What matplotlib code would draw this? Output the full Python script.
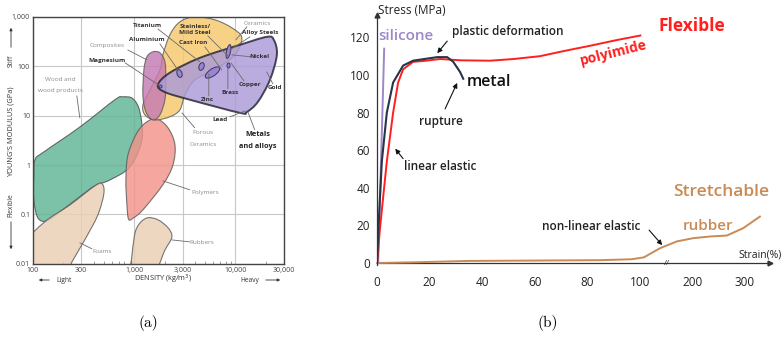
import numpy as np
import matplotlib
matplotlib.use('Agg')
import matplotlib.pyplot as plt
from matplotlib.path import Path
from matplotlib.patches import PathPatch
from matplotlib.markers import MarkerStyle
from matplotlib.transforms import Affine2D

plt.rcParams['font.family'] = ['Open Sans', 'DejaVu Sans']

# ---------------- (a) Ashby chart: modulus vs density ----------------
# bubble outlines, density (kg/m3) and Young's modulus (GPa)
wood_rho = [105, 131, 291, 645, 773, 971, 1138, 1192, 907, 576, 409, 291, 185, 137, 112, 102, 102]
wood_E = [1.3, 1.9, 5.9, 21, 24, 22, 11.9, 3.2, 0.92, 0.50, 0.38, 0.23, 0.113, 0.074, 0.085, 0.20, 0.60]
foam_rho = [83, 131, 232, 409, 480, 502, 438, 326, 243, 210, 83]
foam_E = [0.025, 0.071, 0.156, 0.38, 0.42, 0.27, 0.098, 0.031, 0.011, 0.006, 0.006]
rubber_rho = [971, 993, 1089, 1334, 1714, 2153, 2355, 2009, 1600]
rubber_E = [0.0076, 0.031, 0.059, 0.085, 0.078, 0.054, 0.035, 0.019, 0.0076]
polymer_rho = [1675, 2153, 2523, 2410, 1919, 1219, 981, 880, 847, 828, 867, 1064, 1334]
polymer_E = [8.6, 5.7, 2.6, 1.0, 0.40, 0.124, 0.085, 0.08, 0.16, 0.50, 1.6, 4.5, 7.5]
ceramic_rho = [2250, 2825, 3972, 6266, 9204, 11560, 9863, 6266, 3972, 3162, 2825, 2250, 1600, 1276, 1219, 1429, 1795, 1919]
ceramic_E = [432, 792, 1000, 869, 599, 376, 170, 85, 53, 26, 13.1, 9.5, 8.2, 10.4, 16.5, 33, 85, 170]
composite_rho = [1531, 1795, 2009, 2056, 2009, 1795, 1531, 1306, 1219, 1247, 1334]
composite_E = [196, 187, 123, 53, 21, 10.4, 8.2, 11.9, 26, 85, 155]
metal_rho = [1714, 2250, 4457, 11040, 20420, 23920, 25620, 21880, 16630, 12970, 11040, 3548, 2009]
metal_E = [42, 74, 148, 271, 394, 342, 170, 53, 19, 11.9, 11.4, 21, 30]

# individual metals inside the metal bubble (density, modulus)
blob_rho = [1807, 2762, 4550, 5848, 8500, 8414]
blob_E = [40, 73, 102, 77, 205, 107]
blob_w = [3, 5, 5, 17, 4, 3]
blob_h = [3, 8, 8, 7, 14, 5]
blob_ang = [0, 20, -20, 35, -12, 0]

# labels: text, axes-fraction position, style
labels = [
    ('Titanium', 0.458, 0.964, 'dark'), ('Stainless/', 0.645, 0.960, 'dark'),
    ('Mild Steel', 0.645, 0.935, 'dark'), ('Cast Iron', 0.637, 0.895, 'dark'),
    ('Ceramics', 0.896, 0.972, 'grey'), ('Alloy Steels', 0.904, 0.935, 'dark'),
    ('Aluminium', 0.454, 0.907, 'dark'), ('Composites', 0.295, 0.883, 'grey'),
    ('Magnesium', 0.295, 0.822, 'dark'), ('Nickel', 0.904, 0.838, 'dark'),
    ('Copper', 0.865, 0.725, 'dark'), ('Gold', 0.964, 0.713, 'dark'),
    ('Brass', 0.785, 0.692, 'dark'), ('Zinc', 0.697, 0.664, 'dark'),
    ('Lead', 0.745, 0.583, 'dark'), ('Porous', 0.677, 0.530, 'grey'),
    ('Ceramics', 0.677, 0.482, 'grey'), ('Metals', 0.896, 0.522, 'bold'),
    ('and alloys', 0.896, 0.474, 'bold'), ('Wood and', 0.108, 0.745, 'grey'),
    ('wood products', 0.108, 0.700, 'grey'), ('Polymers', 0.685, 0.287, 'grey'),
    ('Rubbers', 0.673, 0.085, 'grey'), ('Foams', 0.275, 0.049, 'grey'),
]
leaders = [
    ((0.498, 0.951), (0.665, 0.818)), ((0.697, 0.923), (0.777, 0.842)),
    ((0.685, 0.879), (0.753, 0.785)), ((0.506, 0.891), (0.578, 0.785)),
    ((0.378, 0.866), (0.454, 0.826)), ((0.367, 0.814), (0.506, 0.721)),
    ((0.853, 0.960), (0.809, 0.907)), ((0.865, 0.919), (0.785, 0.866)),
    ((0.873, 0.838), (0.793, 0.846)), ((0.841, 0.741), (0.789, 0.814)),
    ((0.956, 0.729), (0.932, 0.777)), ((0.777, 0.709), (0.777, 0.794)),
    ((0.701, 0.680), (0.701, 0.769)), ((0.785, 0.595), (0.845, 0.619)),
    ((0.645, 0.551), (0.594, 0.611)), ((0.884, 0.543), (0.857, 0.615)),
    ((0.175, 0.680), (0.187, 0.591)), ((0.625, 0.300), (0.518, 0.336)),
    ((0.625, 0.089), (0.554, 0.097)), ((0.235, 0.061), (0.187, 0.085)),
]

# ---------------- (b) stress-strain curves ----------------
metal_strain = [0, 0.5, 1.8, 3.7, 6.1, 9.9, 13.7, 18, 22.9, 26.7, 29, 31.6, 32.8]
metal_stress = [0, 18.5, 54, 80, 96, 105, 107.6, 108.5, 109.5, 109.5, 107, 101.6, 98]
pi_strain = [0, 1.1, 3.7, 6.1, 8.0, 9.9, 13.7, 18, 24, 32, 43, 52, 62, 72, 81, 91, 101.3]
pi_stress = [0, 18.5, 54, 80, 96, 103, 107, 107.5, 108.5, 107.8, 107.6, 108.5, 110, 113, 115.5, 118.5, 121]
si_strain = [0.4, 2.7]
si_stress = [0, 114]
rub_strain = [0, 15, 35, 60, 85, 97, 108, 139, 171, 202, 234, 266, 297, 329]
rub_stress = [0, 0.4, 1.1, 1.3, 1.5, 2.0, 3.0, 7.9, 11.5, 13.2, 14.1, 14.6, 18.5, 24.7]
strain_ticks = [0, 20, 40, 60, 80, 100, 200, 300]
stress_ticks = [0, 20, 40, 60, 80, 100, 120]


def smooth_path(xs, ys):
    # closed smooth outline, built in log space
    pts = np.column_stack([np.log10(xs), np.log10(ys)])
    n = len(pts)
    verts = [pts[0]]
    codes = [Path.MOVETO]
    for i in range(n):
        p0, p1, p2, p3 = pts[i - 1], pts[i], pts[(i + 1) % n], pts[(i + 2) % n]
        verts += [p1 + (p2 - p0) / 6, p2 - (p3 - p1) / 6, p2]
        codes += [Path.CURVE4] * 3
    return Path(10 ** np.array(verts), codes)


fig = plt.figure(figsize=(7.84, 3.37), dpi=100)

axA = fig.add_axes([0.042, 0.217, 0.320, 0.733])
axA.set_xscale('log')
axA.set_yscale('log')
axA.set_xlim(100, 30000)
axA.set_ylim(0.01, 1000)

bubbles = [
    (wood_rho, wood_E, '#5fb596', '#4d4d4d', 0.8),
    (foam_rho, foam_E, '#ebcfb3', '#5a5a5a', 0.8),
    (rubber_rho, rubber_E, '#ebcfb3', '#5a5a5a', 0.8),
    (polymer_rho, polymer_E, '#f2938a', '#5a5a5a', 0.8),
    (ceramic_rho, ceramic_E, '#f6c86c', '#5a5a5a', 0.8),
    (composite_rho, composite_E, '#c47ab4', '#5a5a5a', 0.8),
    (metal_rho, metal_E, '#ab9ad8', '#222233', 1.4),
]
for xs, ys, fc, ec, lw in bubbles:
    axA.add_patch(PathPatch(smooth_path(xs, ys), facecolor=fc, edgecolor=ec,
                            lw=lw, alpha=0.82, zorder=2))

for x, y, w, h, a in zip(blob_rho, blob_E, blob_w, blob_h, blob_ang):
    m = MarkerStyle('o', transform=Affine2D().scale(w / h, 1).rotate_deg(a))
    axA.scatter([x], [y], marker=m, s=(h * 0.72) ** 2, facecolor='#9a86d0',
                edgecolor='#3a3566', lw=0.7, zorder=4)

for (x0, y0), (x1, y1) in leaders:
    axA.annotate('', xy=(x1, y1), xytext=(x0, y0), xycoords='axes fraction',
                 arrowprops=dict(arrowstyle='-', color='#6a6a6a', lw=0.6,
                                 shrinkA=0, shrinkB=0), zorder=5)

styles = {'grey': dict(color='#8c8c8c', fontweight='normal'),
          'dark': dict(color='#333333', fontweight='bold'),
          'bold': dict(color='#222222', fontweight='bold')}
for txt, x, y, st in labels:
    size = 5.3 if st == 'bold' else 4.6
    axA.text(x, y, txt, transform=axA.transAxes, ha='center', va='center',
             fontsize=size, zorder=6, **styles[st])

axA.set_xticks([100, 300, 1000, 3000, 10000, 30000])
axA.set_xticklabels(['100', '300', '1,000', '3,000', '10,000', '30,000'])
axA.set_yticks([0.01, 0.1, 1, 10, 100, 1000])
axA.set_yticklabels(['0.01', '0.1', '1', '10', '100', '1,000'])
axA.tick_params(which='major', length=0, labelsize=5, colors='#444444', pad=2)
axA.tick_params(which='minor', direction='in', length=2, color='#777777', width=0.5)
axA.yaxis.set_minor_locator(matplotlib.ticker.NullLocator())
axA.grid(True, which='major', color='#c8c8c8', lw=0.8)
axA.set_axisbelow(True)
for s in axA.spines.values():
    s.set_color('#444444')
    s.set_linewidth(1.0)

# side labels of panel (a)
fig.text(11 / 784, 1 - 132 / 337, "YOUNG'S MODULUS (GPa)", rotation=90, ha='center',
         va='center', fontsize=5.3, color='#333333')
fig.text(11 / 784, 1 - 61 / 337, 'Stiff', rotation=90, ha='center', va='center',
         fontsize=4.8, color='#333333')
fig.text(11 / 784, 1 - 205 / 337, 'Flexible', rotation=90, ha='center', va='center',
         fontsize=4.8, color='#333333')
arr = dict(arrowstyle='-|>', color='#333333', lw=0.6, mutation_scale=4)
fig.add_artist(matplotlib.patches.FancyArrowPatch((11 / 784, 1 - 50 / 337), (11 / 784, 1 - 25 / 337),
               transform=fig.transFigure, **arr))
fig.add_artist(matplotlib.patches.FancyArrowPatch((11 / 784, 1 - 219 / 337), (11 / 784, 1 - 252 / 337),
               transform=fig.transFigure, **arr))
fig.add_artist(matplotlib.patches.FancyArrowPatch((52 / 784, 1 - 280 / 337), (36 / 784, 1 - 280 / 337),
               transform=fig.transFigure, **arr))
fig.add_artist(matplotlib.patches.FancyArrowPatch((263 / 784, 1 - 280 / 337), (283 / 784, 1 - 280 / 337),
               transform=fig.transFigure, **arr))
fig.text(56 / 784, 1 - 280 / 337, 'Light', ha='left', va='center', fontsize=4.8, color='#333333')
fig.text(259 / 784, 1 - 280 / 337, 'Heavy', ha='right', va='center', fontsize=4.8, color='#333333')
fig.text(163 / 784, 1 - 279 / 337, 'DENSITY (kg/m$^3$)', ha='center', va='center',
         fontsize=5.3, color='#333333')

# ---------------- panel (b) ----------------
def fwd(s):
    s = np.asarray(s, dtype=float)
    return np.where(s <= 100, s, 100 + (s - 100) / 5)


def inv(u):
    u = np.asarray(u, dtype=float)
    return np.where(u <= 100, u, 100 + (u - 100) * 5)


axB = fig.add_axes([0.481, 0.214, 0.501, 0.742])
axB.set_xscale('function', functions=(fwd, inv))
axB.set_xlim(0, 348)
axB.set_ylim(-1, 132)

axB.plot(rub_strain, rub_stress, color='#c98a55', lw=1.4, clip_on=False, zorder=3)
axB.plot(si_strain, si_stress, color='#9d86c9', lw=1.4, zorder=3)
axB.plot(pi_strain, pi_stress, color='#ff1f1f', lw=1.4, zorder=4)
axB.plot(metal_strain, metal_stress, color='#263548', lw=1.5, zorder=5)

for k in ['top', 'right']:
    axB.spines[k].set_visible(False)
for k in ['left', 'bottom']:
    axB.spines[k].set_color('#333333')
    axB.spines[k].set_linewidth(0.9)
axB.spines['bottom'].set_position(('data', 0))
axB.plot(1, 0, '>', color='#333333', ms=3.5, transform=axB.get_yaxis_transform(), clip_on=False)
axB.plot(0, 1, '^', color='#333333', ms=3.5, transform=axB.get_xaxis_transform(), clip_on=False)

axB.set_xticks(strain_ticks)
axB.set_xticklabels([str(t) for t in strain_ticks])
axB.set_yticks(stress_ticks)
axB.set_yticklabels([str(t) for t in stress_ticks])
axB.tick_params(axis='x', length=0, labelsize=8.5, pad=9, colors='#222222')
axB.tick_params(axis='y', length=0, labelsize=8.5, pad=5, colors='#222222')
axB.text(152, 0, '//', ha='center', va='center', fontsize=6, color='#333333')

ap = dict(arrowstyle='-|>', color='#111111', lw=0.8, mutation_scale=7, shrinkA=0, shrinkB=0)
fig.text(378 / 784, 1 - 10 / 337, 'Stress (MPa)', ha='left', va='center', fontsize=8.5, color='#222222')
axB.text(0.3, 120.5, 'silicone', ha='left', va='center', fontsize=11, color='#9d86c9', fontweight='semibold')
axB.text(28.6, 123, 'plastic deformation', ha='left', va='center', fontsize=8.5,
         color='#222222', fontweight='semibold')
axB.annotate('', xy=(22.9, 111.6), xytext=(26.7, 118), arrowprops=ap)
axB.text(135, 126, 'Flexible', ha='left', va='center', fontsize=12.5, color='#ff1f1f', fontweight='bold')
axB.text(90, 112, 'polyimide', ha='center', va='center', fontsize=10, color='#ff1f1f',
         fontweight='bold', rotation=14)
axB.text(34.3, 96.3, 'metal', ha='left', va='center', fontsize=11.5, color='#111111', fontweight='semibold')
axB.text(24.4, 75, 'rupture', ha='center', va='center', fontsize=8.5, color='#222222', fontweight='semibold')
axB.annotate('', xy=(30.5, 95.8), xytext=(25.9, 82), arrowprops=ap)
axB.text(10.3, 51.3, 'linear elastic', ha='left', va='center', fontsize=8.5, color='#222222', fontweight='semibold')
axB.annotate('', xy=(6.9, 60.8), xytext=(9.9, 55.5), arrowprops=ap)
axB.text(164, 37.6, 'Stretchable', ha='left', va='center', fontsize=12.5, color='#c98a55', fontweight='semibold')
axB.text(183, 19.6, 'rubber', ha='left', va='center', fontsize=11, color='#c98a55', fontweight='semibold')
axB.text(101.3, 19.6, 'non-linear elastic', ha='right', va='center', fontsize=8.5,
         color='#222222', fontweight='semibold')
axB.annotate('', xy=(143, 9.5), xytext=(118, 17.5), arrowprops=ap)
axB.text(287.5, 4.2, 'Strain(%)', ha='left', va='center', fontsize=7.5, color='#222222', clip_on=False)

fig.text(148 / 784, 1 - 323 / 337, '(a)', ha='center', va='center', fontsize=11, family='cmr10')
fig.text(548 / 784, 1 - 323 / 337, '(b)', ha='center', va='center', fontsize=11, family='cmr10')

fig.savefig('out.png', dpi=100)
